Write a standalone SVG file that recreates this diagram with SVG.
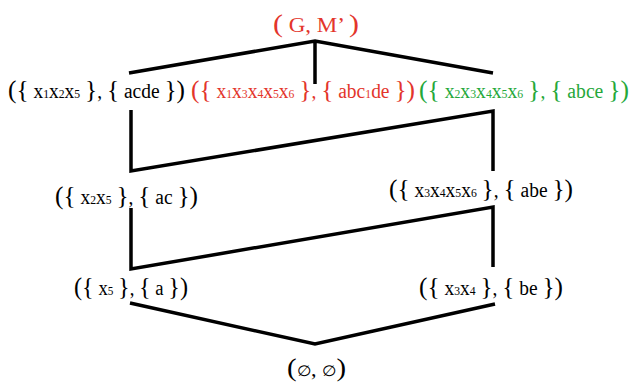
<svg xmlns="http://www.w3.org/2000/svg" width="632" height="387" viewBox="0 0 632 387">
<style>
text{font-family:"Liberation Serif","Liberation Sans",sans-serif;font-size:20px;fill:#000}
.b{font-size:26px}
.s{font-size:12px}
.red{fill:#e3352b}
.green{fill:#25a83a}
.e{font-size:15px}
#connectors path{fill:none;stroke:#000;stroke-width:3.5;stroke-linejoin:miter;stroke-linecap:butt}
</style>
<rect width="632" height="387" fill="#fff"/>
<g id="connectors">
<path d="M129,73 L315,41 L493,73 M315,41 V84"/>
<path d="M131,110 V171 L493,111 V171"/>
<path d="M131,208 V269 L493,207 V267"/>
<path d="M130,303 L315,344 L495,304"/>
</g>
<g id="top"><text class="red" x="273" y="32" textLength="86" lengthAdjust="spacingAndGlyphs"><tspan class="b">(</tspan> G, M’ <tspan class="b">)</tspan></text></g>
<g id="n1"><text x="8" y="98" textLength="177" lengthAdjust="spacingAndGlyphs"><tspan class="b">({</tspan> x<tspan class="s">1</tspan>x<tspan class="s">2</tspan>x<tspan class="s">5</tspan> <tspan class="b">}</tspan>, <tspan class="b">{</tspan> acde <tspan class="b">})</tspan></text></g>
<g id="n2"><text class="red" x="191" y="98" textLength="224" lengthAdjust="spacingAndGlyphs"><tspan class="b">({</tspan> x<tspan class="s">1</tspan>x<tspan class="s">3</tspan>x<tspan class="s">4</tspan>x<tspan class="s">5</tspan>x<tspan class="s">6</tspan> <tspan class="b">}</tspan>, <tspan class="b">{</tspan> abc<tspan class="s">1</tspan>de <tspan class="b">})</tspan></text></g>
<g id="n3"><text class="green" x="419" y="98" textLength="210" lengthAdjust="spacingAndGlyphs"><tspan class="b">({</tspan> x<tspan class="s">2</tspan>x<tspan class="s">3</tspan>x<tspan class="s">4</tspan>x<tspan class="s">5</tspan>x<tspan class="s">6</tspan> <tspan class="b">}</tspan>, <tspan class="b">{</tspan> abce <tspan class="b">})</tspan></text></g>
<g id="n4"><text x="55" y="204" textLength="143" lengthAdjust="spacingAndGlyphs"><tspan class="b">({</tspan> x<tspan class="s">2</tspan>x<tspan class="s">5</tspan> <tspan class="b">}</tspan>, <tspan class="b">{</tspan> ac <tspan class="b">})</tspan></text></g>
<g id="n5"><text x="389" y="197" textLength="184" lengthAdjust="spacingAndGlyphs"><tspan class="b">({</tspan> x<tspan class="s">3</tspan>x<tspan class="s">4</tspan>x<tspan class="s">5</tspan>x<tspan class="s">6</tspan> <tspan class="b">}</tspan>, <tspan class="b">{</tspan> abe <tspan class="b">})</tspan></text></g>
<g id="n6"><text x="74" y="295" textLength="114" lengthAdjust="spacingAndGlyphs"><tspan class="b">({</tspan> x<tspan class="s">5</tspan> <tspan class="b">}</tspan>, <tspan class="b">{</tspan> a <tspan class="b">})</tspan></text></g>
<g id="n7"><text x="419" y="295" textLength="144" lengthAdjust="spacingAndGlyphs"><tspan class="b">({</tspan> x<tspan class="s">3</tspan>x<tspan class="s">4</tspan> <tspan class="b">}</tspan>, <tspan class="b">{</tspan> be <tspan class="b">})</tspan></text></g>
<g id="bottom"><text x="287" y="376" textLength="59" lengthAdjust="spacingAndGlyphs"><tspan class="b">(</tspan><tspan class="e">∅</tspan>, <tspan class="e">∅</tspan><tspan class="b">)</tspan></text></g>
</svg>
